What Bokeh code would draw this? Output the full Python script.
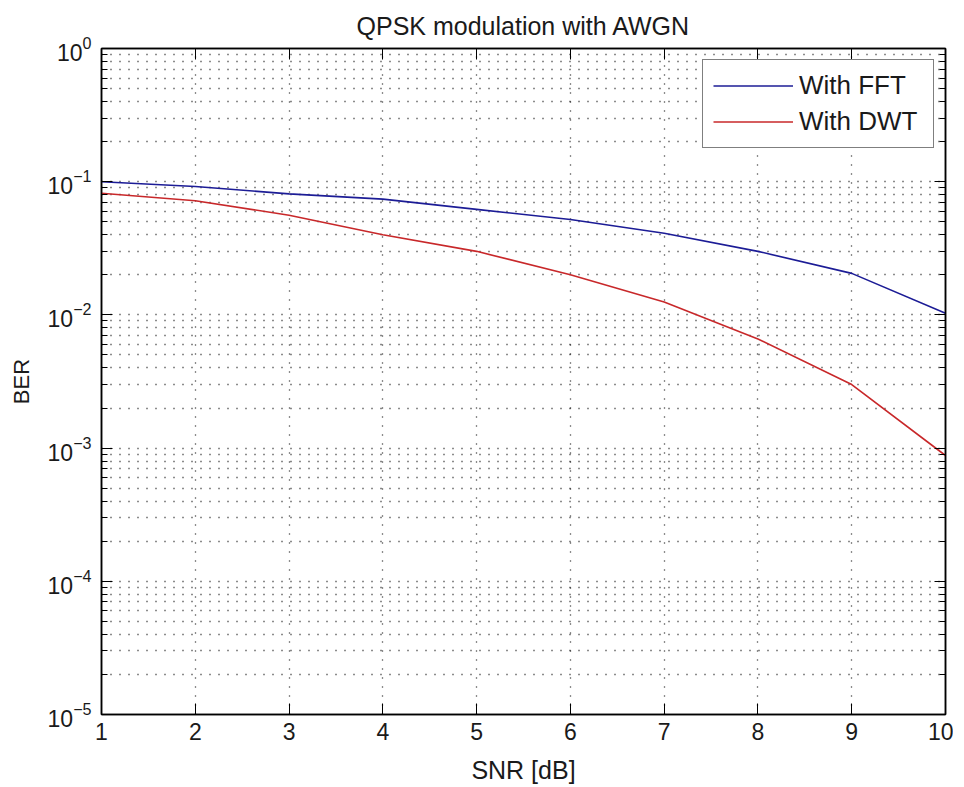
from bokeh.plotting import figure
from bokeh.models import (LinearAxis, LogAxis, FixedTicker, LogTickFormatter,
                          CustomJSTickFormatter, Legend, LegendItem, Range1d)
from bokeh.embed import file_html
from bokeh.resources import INLINE

# ---- data ----
snr_db = [1, 2, 3, 4, 5, 6, 7, 8, 9, 10]
ber_fft = [0.100, 0.092, 0.081, 0.074, 0.062, 0.052, 0.041, 0.030, 0.0205, 0.0103]
ber_dwt = [0.082, 0.072, 0.056, 0.040, 0.030, 0.020, 0.0125, 0.0066, 0.0030, 0.00088]

x_ticks = [1, 2, 3, 4, 5, 6, 7, 8, 9, 10]
y_major = [1e-5, 1e-4, 1e-3, 1e-2, 1e-1, 1e0]
y_minor = [m * d for d in [1e-5, 1e-4, 1e-3, 1e-2, 1e-1] for m in range(2, 10)]

FONT = "Liberation Sans"
TXT = "#1a1a1a"

p = figure(y_axis_type="log",
           x_range=Range1d(1, 10), y_range=Range1d(1e-5, 1),
           frame_width=844, frame_height=666,
           min_border_left=101, min_border_top=47, min_border_right=8, min_border_bottom=60,
           output_backend="svg", toolbar_location=None,
           title="QPSK modulation with AWGN")

p.title.text_font = FONT
p.title.text_font_size = "25px"
p.title.text_font_style = "normal"
p.title.text_color = TXT
p.title.align = "center"
p.title.text_line_height = 0.8
p.title.standoff = 18

p.background_fill_color = "white"
p.border_fill_color = "white"
p.outline_line_color = "black"
p.outline_line_width = 1.5

xt = FixedTicker(ticks=x_ticks)
yt = FixedTicker(ticks=y_major, minor_ticks=y_minor)

def style_axis(ax):
    ax.axis_line_color = "black"
    ax.axis_line_width = 1.5
    ax.major_tick_in = 11
    ax.major_tick_out = 0
    ax.minor_tick_in = 6
    ax.minor_tick_out = 0
    ax.major_tick_line_color = "black"
    ax.minor_tick_line_color = "black"
    ax.major_label_text_font = FONT
    ax.major_label_text_font_size = "23px"
    ax.major_label_text_color = TXT
    ax.axis_label_text_font = FONT
    ax.axis_label_text_font_size = "22px"
    ax.axis_label_text_font_style = "normal"
    ax.axis_label_text_color = TXT

xa = p.xaxis[0]
xa.ticker = xt
style_axis(xa)
xa.minor_tick_line_color = None
xa.axis_label = "SNR [dB]"
xa.axis_label_text_font_size = "25px"
xa.major_label_standoff = 8
xa.axis_label_standoff = 13

ya = p.yaxis[0]
ya.ticker = yt
ya.formatter = LogTickFormatter()
style_axis(ya)
ya.axis_label = "BER"
ya.major_label_standoff = 10
ya.axis_label_standoff = 11

top = LinearAxis(ticker=xt, formatter=CustomJSTickFormatter(code="return ''"))
style_axis(top)
top.minor_tick_line_color = None
top.major_label_standoff = 0
p.add_layout(top, "above")

right = LogAxis(ticker=yt, formatter=CustomJSTickFormatter(code="return ''"))
style_axis(right)
right.major_label_standoff = 0
p.add_layout(right, "right")

p.xgrid.ticker = xt
p.ygrid.ticker = yt
for g in (p.xgrid[0], p.ygrid[0]):
    g.grid_line_color = "black"
    g.grid_line_dash = "1 8"
    g.grid_line_width = 1.3
    g.grid_line_alpha = 0.9
p.ygrid[0].minor_grid_line_color = "black"
p.ygrid[0].minor_grid_line_dash = "1 8"
p.ygrid[0].minor_grid_line_width = 1.3
p.ygrid[0].minor_grid_line_alpha = 0.9

r_fft = p.line(snr_db, ber_fft, line_color="#1c1c96", line_width=1.6)
r_dwt = p.line(snr_db, ber_dwt, line_color="#c8282a", line_width=1.6)

legend = Legend(items=[LegendItem(label="With FFT", renderers=[r_fft]),
                       LegendItem(label="With DWT", renderers=[r_dwt])],
                location="top_right")
legend.margin = 11
legend.padding = 10
legend.spacing = 5
legend.glyph_width = 80
legend.glyph_height = 27
legend.label_standoff = 6
legend.label_width = 124
legend.label_text_font = FONT
legend.label_text_font_size = "26px"
legend.label_text_color = TXT
legend.border_line_color = "black"
legend.border_line_width = 1.5
legend.background_fill_color = "white"
legend.background_fill_alpha = 1
p.add_layout(legend, "center")

open("out.html", "w").write(file_html(p, INLINE))
